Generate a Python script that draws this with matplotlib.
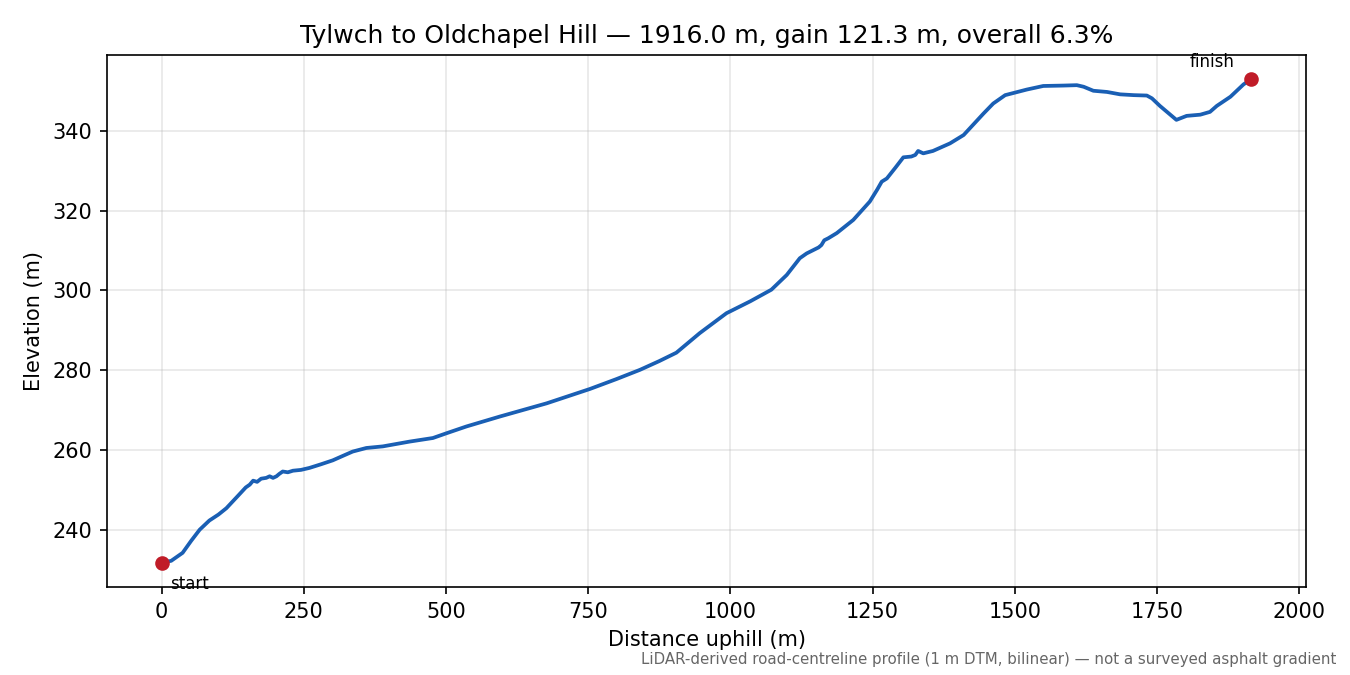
import matplotlib
matplotlib.use("Agg")
import matplotlib.pyplot as plt

# distance along road (m) and elevation (m)
dist = [0, 17, 37, 52, 67, 84, 100, 114, 135, 148, 155, 161, 168, 175, 184, 190, 196, 202, 207,
        213, 222, 231, 245, 260, 280, 301, 320, 336, 360, 389, 436, 477, 501, 536, 595, 677,
        753, 800, 841, 875, 905, 946, 993, 1035, 1072, 1099, 1122, 1134, 1155, 1160, 1165, 1172,
        1187, 1216, 1245, 1258, 1266, 1275, 1290, 1304, 1318, 1325, 1330, 1339, 1356, 1386,
        1410, 1445, 1462, 1483, 1521, 1550, 1585, 1609, 1621, 1638, 1662, 1685, 1709, 1732,
        1741, 1755, 1784, 1802, 1826, 1843, 1855, 1879, 1902, 1916]
elev = [231.7, 232.2, 234.2, 237.2, 240.0, 242.3, 243.8, 245.4, 248.6, 250.6, 251.3, 252.3,
        252.0, 252.8, 253.0, 253.4, 253.0, 253.4, 254.0, 254.6, 254.4, 254.8, 255.0, 255.5,
        256.4, 257.4, 258.6, 259.6, 260.5, 260.9, 262.1, 263.0, 264.2, 265.9, 268.4, 271.7,
        275.3, 277.8, 280.1, 282.3, 284.4, 289.3, 294.3, 297.3, 300.2, 303.9, 308.1, 309.3,
        310.8, 311.4, 312.6, 313.1, 314.4, 317.7, 322.3, 325.3, 327.3, 328.1, 330.8, 333.4,
        333.6, 334.0, 335.0, 334.4, 335.0, 336.9, 339.0, 344.4, 346.9, 349.0, 350.4, 351.3,
        351.4, 351.5, 351.1, 350.1, 349.8, 349.2, 349.0, 348.9, 348.2, 346.3, 342.8, 343.8,
        344.1, 344.8, 346.3, 348.6, 351.7, 353.0]

fig, ax = plt.subplots(figsize=(9, 4.5), dpi=150)
fig.subplots_adjust(left=0.0793, right=0.9674, top=0.9185, bottom=0.1304)

ax.plot(dist, elev, color="#1a5fb4", lw=1.8)
ax.plot([dist[0], dist[-1]], [elev[0], elev[-1]], "o", color="#c01c28", ms=6, zorder=3)

ax.annotate("start", (dist[0], elev[0]), xytext=(4, -6), textcoords="offset points",
            ha="left", va="top", fontsize=8)
ax.annotate("finish", (dist[-1], elev[-1]), xytext=(-8, 4), textcoords="offset points",
            ha="right", va="bottom", fontsize=8)

ax.set_xlabel("Distance uphill (m)")
ax.set_ylabel("Elevation (m)")
ax.set_title("Tylwch to Oldchapel Hill \u2014 1916.0 m, gain 121.3 m, overall 6.3%", fontsize=12)
ax.grid(True, alpha=0.3)

fig.text(0.99, 0.012, "LiDAR-derived road-centreline profile (1 m DTM, bilinear) \u2014 not a surveyed asphalt gradient",
         ha="right", va="bottom", fontsize=7.2, color="#666666")

fig.savefig("out.png", dpi=150)
